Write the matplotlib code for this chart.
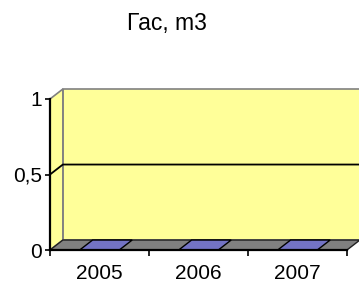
import matplotlib
matplotlib.use("Agg")
import matplotlib.pyplot as plt
from matplotlib.patches import Polygon

# ---- data ----
title = "Гас, m3"
categories = ["2005", "2006", "2007"]
values = [0, 0, 0]
yticks = [0, 0.5, 1]
yticklabels = ["0", "0,5", "1"]

# ---- style ----
WALL = "#FFFF99"
FLOOR = "#808080"
BAR = "#7373C4"
EDGE_GREY = "#808080"
DX = 0.13   # depth offset in category units
DY = 0.066  # depth offset in value units
BAR_W = 0.4

plt.rcParams["font.family"] = ["Liberation Sans", "DejaVu Sans"]

W, H = 359, 283
fig = plt.figure(figsize=(W / 100, H / 100), dpi=100)
ax = fig.add_axes([50 / W, 33 / H, 297 / W, 151 / H])
ax.set_xlim(0, len(categories))
ax.set_ylim(0, 1)
ax.patch.set_visible(False)
for s in ["top", "right"]:
    ax.spines[s].set_visible(False)
ax.spines["left"].set_linewidth(1.6)
ax.spines["bottom"].set_linewidth(1.6)
ax.spines["left"].set_zorder(10)
ax.spines["bottom"].set_zorder(10)

n = len(categories)
ymax = 1
# back wall
ax.add_patch(Polygon([(DX, DY), (n + DX, DY), (n + DX, ymax + DY), (DX, ymax + DY)],
                     closed=True, facecolor=WALL, edgecolor=EDGE_GREY, lw=1.2, clip_on=False, zorder=1))
# side wall
ax.add_patch(Polygon([(0, 0), (DX, DY), (DX, ymax + DY), (0, ymax)],
                     closed=True, facecolor=WALL, edgecolor=EDGE_GREY, lw=1.2, clip_on=False, zorder=1))
# floor
ax.add_patch(Polygon([(0, 0), (DX, DY), (n + DX, DY), (n, 0)],
                     closed=True, facecolor=FLOOR, edgecolor="#202020", lw=1.0, clip_on=False, zorder=2))
# gridlines (skip top edge which is the wall border)
for yt in yticks:
    if 0 < yt < ymax:
        ax.plot([0, DX, n + DX], [yt, yt + DY, yt + DY], color="black", lw=1.3,
                clip_on=False, zorder=2)
# bars (flat, value 0)
for i, v in enumerate(values):
    x0 = i + (1 - BAR_W) / 2
    x1 = x0 + BAR_W
    ax.add_patch(Polygon([(x0, v), (x1, v), (x1 + DX, v + DY), (x0 + DX, v + DY)],
                         closed=True, facecolor=BAR, edgecolor="black", lw=1.0,
                         clip_on=False, zorder=3))

ax.set_yticks(yticks)
ax.set_yticklabels(yticklabels)
ax.tick_params(axis="y", direction="out", length=3.6, width=1.2, pad=2.2, labelsize=15)
ax.set_xticks(range(n + 1))
ax.set_xticklabels([])
ax.tick_params(axis="x", which="major", direction="out", length=4, width=1.2)
ax.set_xticks([i + 0.5 for i in range(n)], minor=True)
ax.set_xticklabels(categories, minor=True)
ax.tick_params(axis="x", which="minor", length=0, pad=10, labelsize=15)

fig.text(167 / W, (H - 30) / H, title, ha="center", va="baseline", fontsize=16.5)

fig.savefig("out.png", dpi=100)
